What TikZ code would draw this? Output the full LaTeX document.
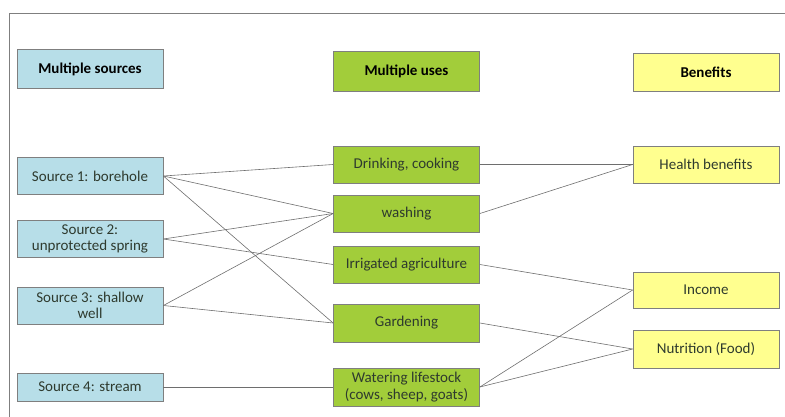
\documentclass[tikz,border=0pt]{standalone}
\usepackage{fontspec}
\setmainfont{Carlito}
\usepackage{xcolor}
\usetikzlibrary{positioning}
\definecolor{srcblue}{HTML}{B7DEE8}
\definecolor{usegreen}{HTML}{A2CD3A}
\definecolor{benyellow}{HTML}{FFFF8F}
\definecolor{boxline}{HTML}{7F7F7F}
\definecolor{linkgray}{HTML}{6E6E6E}
\definecolor{txtgray}{HTML}{2E3A2E}

\begin{document}
\begin{tikzpicture}[x=1pt,y=-1pt,font=\fontsize{15}{16.5}\selectfont]

\tikzset{
box/.style={
    draw=boxline,
    line width=0.8pt,
    minimum width=146pt,
    minimum height=37pt,
    inner sep=0pt,
    align=center,
    text=txtgray
},
srcbox/.style={box,fill=srcblue},
usebox/.style={box,fill=usegreen},
benbox/.style={box,fill=benyellow},
head/.style={font=\fontsize{15}{16.5}\selectfont\bfseries,text=black},
link/.style={draw=linkgray,line width=0.6pt}
}

\useasboundingbox (0,0) rectangle (785,417);
\draw[boxline,line width=0.9pt] (785,13) -- (9,13) -- (9,417);

% column headings
\node[srcbox,head,minimum height=39pt] (srchead) at (90,69) {Multiple sources};
\node[usebox,head,minimum height=40pt] (usehead) at (406.5,71) {Multiple uses};
\node[benbox,head,minimum height=38pt] (benhead) at (706,72) {Benefits};

% sources
\node[srcbox] (src1) at (90,176) {Source 1: borehole};
\node[srcbox] (src2) at (90,239) {Source 2:\\unprotected spring};
\node[srcbox] (src3) at (90,305.5) {Source 3: shallow\\well};
\node[srcbox,minimum height=28pt] (src4) at (90,387) {Source 4: stream};

% uses
\node[usebox] (drink) at (406.5,164.5) {Drinking, cooking};
\node[usebox] (wash) at (406.5,213.5) {washing};
\node[usebox] (irrig) at (406.5,264.5) {Irrigated agriculture};
\node[usebox,minimum height=38pt] (garden) at (406.5,323) {Gardening};
\node[usebox,minimum height=38pt] (water) at (406.5,387) {Watering lifestock\\(cows, sheep, goats)};

% benefits
\node[benbox] (health) at (706,164.5) {Health benefits};
\node[benbox,minimum height=36pt] (income) at (706,290) {Income};
\node[benbox,minimum height=38pt] (nutri) at (706,349) {Nutrition (Food)};

% sources to uses
\draw[link] (src1.east) -- (drink.west);
\draw[link] (src1.east) -- (wash.west);
\draw[link] (src1.east) -- (garden.west);
\draw[link] (src2.east) -- (wash.west);
\draw[link] (src2.east) -- (irrig.west);
\draw[link] (src3.east) -- (wash.west);
\draw[link] (src3.east) -- (garden.west);
\draw[link] (src4.east) -- (water.west);

% uses to benefits
\draw[link] (drink.east) -- (health.west);
\draw[link] (wash.east) -- (health.west);
\draw[link] (irrig.east) -- (income.west);
\draw[link] (garden.east) -- (nutri.west);
\draw[link] (water.east) -- (income.west);
\draw[link] (water.east) -- (nutri.west);

\end{tikzpicture}
\end{document}
